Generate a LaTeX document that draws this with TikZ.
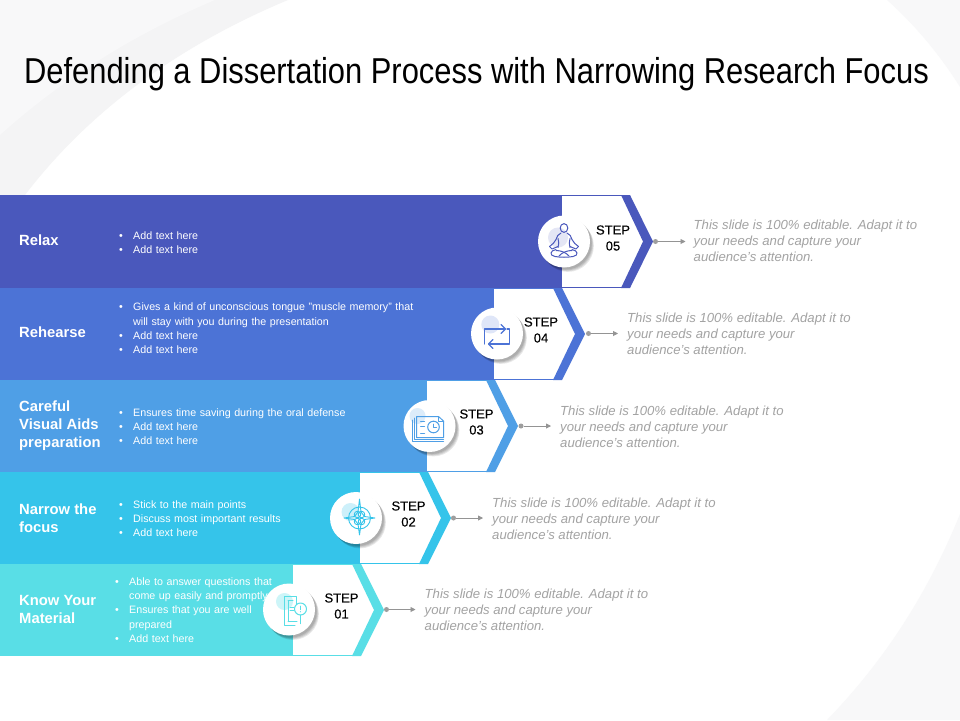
\documentclass[tikz,border=0pt]{standalone}
\usepackage{fontspec}
\setmainfont{Liberation Sans}
\usetikzlibrary{arrows.meta}
\definecolor{cA}{HTML}{4A58BC}
\definecolor{cB}{HTML}{4C73D6}
\definecolor{cC}{HTML}{4F9FE6}
\definecolor{cD}{HTML}{35C4EA}
\definecolor{cE}{HTML}{59DEE6}
\definecolor{bgg}{HTML}{F4F4F5}
\definecolor{bgl}{HTML}{F8F8F9}
\tikzset{x=1pt,y=-1pt,
 bandtitle/.style={anchor=west,text=white,font=\fontsize{14.8}{18}\selectfont\bfseries,align=left,inner sep=0pt},
 bandbody/.style={anchor=north west,text=white,font=\fontsize{10.7}{14.2}\selectfont,inner sep=0pt,text width=#1},
 bandbody/.default=290pt,
 steptext/.style={align=center,font=\fontsize{13}{16}\selectfont\addfontfeature{FakeBold=0.25},text=black,inner sep=0pt},
 desc/.style={anchor=west,align=left,text=black!36,font=\fontsize{13.15}{16}\selectfont\itshape,inner sep=0pt},
 badge/.style={circle,fill=white,minimum size=52pt,inner sep=0pt},
 dotnode/.style={circle,fill=black!38,minimum size=5pt,inner sep=0pt},
 linkarrow/.style={draw=black!42,line width=0.9pt,-{Triangle[length=5pt,width=5pt]}},
 icon/.style={line width=1pt,line cap=round,line join=round}
}
\newcommand{\bul}[1]{\item[{\hbox to 14pt{\textbullet\hss}}]#1}
\newenvironment{blist}{\begin{list}{}{\leftmargin=14pt\labelwidth=14pt\labelsep=0pt\itemsep=0pt\parsep=0pt\topsep=0pt\partopsep=0pt}}{\end{list}}
% band: x of colour edge, top y, height, colour
\newcommand{\band}[4]{%
 \pgfmathsetmacro{\yb}{#2+#3}\pgfmathsetmacro{\ym}{#2+#3/2}%
 \fill[#4] (0,#2) rectangle (#1,\yb);
 \fill[white] (#1,#2) -- ++(65,0) -- (#1+86,\ym) -- (#1+65,\yb) -- (#1,\yb) -- cycle;
 \draw[#4,line width=1pt] (#1,#2+0.5) -- (#1+65,#2+0.5) (#1,\yb-0.5) -- (#1+65,\yb-0.5);
 \fill[#4] (#1+59,#2) -- (#1+68,#2) -- (#1+91,\ym) -- (#1+68,\yb) -- (#1+59,\yb) -- (#1+81,\ym) -- cycle;
}
\newcommand{\badgeshadow}[2]{%
 \foreach \o in {5.5,4.5,3.5,2.5}{\fill[black,opacity=0.09] (#1+\o*0.7,#2+\o*0.8) circle (26);}
}
\begin{document}
\begin{tikzpicture}
\useasboundingbox (0,0) rectangle (960,720);
\fill[white] (0,0) rectangle (960,720);
\fill[bgg] (0,0) -- (288,0) .. controls (180,45) and (90,110) .. (25,195) -- (0,195) -- cycle;
\fill[bgl] (0,0) -- (215,0) .. controls (120,40) and (50,90) .. (0,135) -- cycle;
\fill[bgl] (887,0) .. controls (915,25) and (940,55) .. (960,87) -- (960,0) -- cycle;
\fill[bgl] (960,514) .. controls (925,600) and (880,665) .. (827,720) -- (960,720) -- cycle;
\node[anchor=base,inner sep=0pt,font=\fontsize{36}{40}\selectfont] (title) at (476.5,83) {\scalebox{0.858}[1]{Defending a Dissertation Process with Narrowing Research Focus}};

\band{562}{195}{93}{cA}
\band{494}{288}{92}{cB}
\band{427}{380}{92}{cC}
\band{360}{472}{92}{cD}
\band{293}{564}{92}{cE}

% band titles
\node[bandtitle] (t5) at (19,240.5) {Relax};
\node[bandtitle] (t4) at (19,332.5) {Rehearse};
\node[bandtitle] (t3) at (19,426) {Careful\\Visual Aids\\preparation};
\node[bandtitle] (t2) at (19,518) {Narrow the\\focus};
\node[bandtitle] (t1) at (19,609.5) {Know Your\\Material};

% band bodies
\node[bandbody=290pt] (b5) at (119,225) {\begin{blist}\bul{Add text here}\bul{Add text here}\end{blist}};
\node[bandbody=296pt] (b4) at (119,296.5) {\begin{blist}\bul{Gives a kind of unconscious tongue "muscle memory" that will stay with you during the presentation}\bul{Add text here}\bul{Add text here}\end{blist}};
\node[bandbody=290pt] (b3) at (119,402) {\begin{blist}\bul{Ensures time saving during the oral defense}\bul{Add text here}\bul{Add text here}\end{blist}};
\node[bandbody=220pt] (b2) at (119,494) {\begin{blist}\bul{Stick to the main points}\bul{Discuss most important results}\bul{Add text here}\end{blist}};
\node[bandbody=160pt] (b1) at (115,571) {\begin{blist}\bul{Able to answer questions that come up easily and promptly}\bul{Ensures that you are well prepared}\bul{Add text here}\end{blist}};

% badges
\badgeshadow{564}{241.5}\node[badge] (c5) at (564,241.5) {};
\badgeshadow{497}{333.5}\node[badge] (c4) at (497,333.5) {};
\badgeshadow{429.5}{426}\node[badge] (c3) at (429.5,426) {};
\badgeshadow{356}{518}\node[badge] (c2) at (356,518) {};
\badgeshadow{289}{609.5}\node[badge] (c1) at (289,609.5) {};

% icon 5: meditation
\begin{scope}[shift={(564,241.5)},icon,draw=cA]
 \fill[cA!15] (-6,-4) circle (10);
 \draw (0,-13.5) ellipse (3.8 and 4.4);
 \draw (-3,-8.5) .. controls (-6,-7.5) and (-7,-5) .. (-8,-2) .. controls (-9,1) and (-12,3) .. (-14.5,5);
 \draw (3,-8.5) .. controls (6,-7.5) and (7,-5) .. (8,-2) .. controls (9,1) and (12,3) .. (14.5,5);
 \draw (-14.5,5) -- (-12,7.5) -- (-6,5) (14.5,5) -- (12,7.5) -- (6,5);
 \draw (-6,-3) .. controls (-5,0) and (-5,3) .. (-6,6);
 \draw (6,-3) .. controls (5,0) and (5,3) .. (6,6);
 \draw (-8,8) .. controls (-14,9) and (-15,14) .. (-9,15) .. controls (-3,16) and (3,16) .. (9,15) .. controls (15,14) and (14,9) .. (8,8);
 \draw (-8,9) .. controls (-3,9) and (2,11) .. (5,14.5);
 \draw (8,9) .. controls (3,9) and (-2,11) .. (-5,14.5);
\end{scope}
% icon 4: repeat
\begin{scope}[shift={(497,333.5)},icon,draw=cB,line width=1.1pt]
 \fill[cB!18] (-6.7,-9) circle (9);
 \draw (-12.7,10.5) -- (-12.7,-4.5) -- (8,-4.5);
 \draw (4,-9) -- (8.5,-4.5) -- (4,0);
 \draw (10,-4.5) -- (12.7,-4.5) -- (12.7,10.5) -- (-8,10.5);
 \draw (-4,6) -- (-8.5,10.5) -- (-4,15);
\end{scope}
% icon 3: document & clock
\begin{scope}[shift={(429.5,426)},icon,draw=cC,line width=1pt]
 \fill[cC!20] (-12,-10) circle (8);
 \draw (-15,-8) -- (-15,13.5) -- (14,13.5);
 \draw (-17,-6) -- (-17,15.5) -- (14,15.5);
 \draw (-13,-9.5) -- (9,-9.5) -- (14,-5) -- (14,11.5) -- (-13,11.5) -- cycle;
 \draw (9,-9.5) -- (9,-5) -- (14,-5);
 \draw (-9,-5) -- (-5,-5) (-9,0) -- (-5,0) (-9,7) -- (-5,7);
 \draw (4,1) circle (5.8);
 \draw (4,-2) -- (4,1) -- (7,1);
\end{scope}
% icon 2: target
\begin{scope}[shift={(359.5,518)},icon,draw=cD,line width=0.9pt]
 \fill[cD!25] (-9,-6) circle (9);
 \draw (0,0) circle (11);
 \draw (-15.5,0) -- (-5,-1.5) -- (-1.5,-6) -- (0,-19) -- (1.5,-6) -- (5,-1.5) -- (15.5,0) -- (5,1.5) -- (1.5,6) -- (0,17) -- (-1.5,6) -- (-5,1.5) -- cycle;
 \draw (-2,-3.5) circle (3.3) (2,-3.5) circle (3.3) (-2,3.5) circle (3.3) (2,3.5) circle (3.3);
\end{scope}
% icon 1: document & magnifier
\begin{scope}[shift={(289,609.5)},icon,draw=cE,line width=1pt]
 \fill[cE!30] (-4.5,-8) circle (8.5);
 \draw (7,-6) -- (7,-13) -- (-4.5,-13) -- (-4.5,15.5) -- (6,15.5);
 \draw (-1,-9) -- (4,-9);
 \draw (-1,12) -- (-1,-9);
 \draw (-1,12) -- (8,12);
 \draw (1,-2) -- (5,-2) (1,1) -- (5,1);
 \draw (11.5,-0.5) circle (6);
 \draw (11.5,5.5) -- (11.5,14);
 \draw (11.5,-3.5) -- (11.5,0) (11.5,2) -- (11.5,2.3);
\end{scope}

% step labels
\node[steptext] (s5) at (613,238) {STEP\\05};
\node[steptext] (s4) at (541,330) {STEP\\04};
\node[steptext] (s3) at (476.5,422) {STEP\\03};
\node[steptext] (s2) at (408.5,514) {STEP\\02};
\node[steptext] (s1) at (341.5,606) {STEP\\01};

% description texts
\node[desc] (d5) at (693.5,241) {This slide is 100\% editable. Adapt it to\\your needs and capture your\\audience's attention.};
\node[desc] (d4) at (627,333.5) {This slide is 100\% editable. Adapt it to\\your needs and capture your\\audience's attention.};
\node[desc] (d3) at (560,426.5) {This slide is 100\% editable. Adapt it to\\your needs and capture your\\audience's attention.};
\node[desc] (d2) at (492,518.5) {This slide is 100\% editable. Adapt it to\\your needs and capture your\\audience's attention.};
\node[desc] (d1) at (424.5,609.5) {This slide is 100\% editable. Adapt it to\\your needs and capture your\\audience's attention.};

% connectors
\node[dotnode] (p5) at (655.5,241.5) {};
\node[dotnode] (p4) at (588.5,333.5) {};
\node[dotnode] (p3) at (521,426) {};
\node[dotnode] (p2) at (453.5,518) {};
\node[dotnode] (p1) at (386.5,609.5) {};
\draw[linkarrow,shorten >=8pt] (p5) -- (d5.west |- p5);
\draw[linkarrow,shorten >=9pt] (p4) -- (d4.west |- p4);
\draw[linkarrow,shorten >=9pt] (p3) -- (d3.west |- p3);
\draw[linkarrow,shorten >=9pt] (p2) -- (d2.west |- p2);
\draw[linkarrow,shorten >=9pt] (p1) -- (d1.west |- p1);
\end{tikzpicture}
\end{document}
